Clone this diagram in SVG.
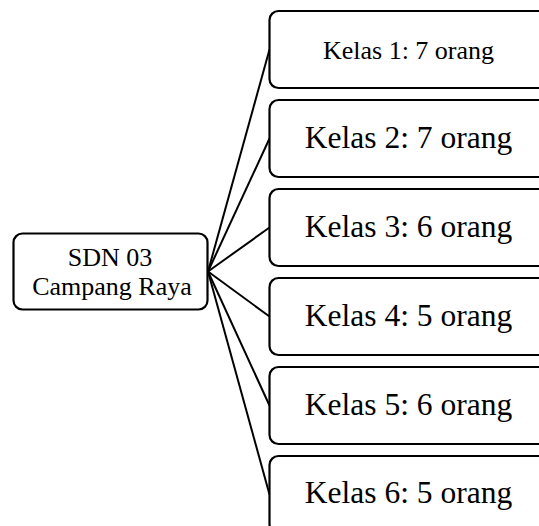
<svg xmlns="http://www.w3.org/2000/svg" width="539" height="526" viewBox="0 0 539 526">
  <style>
    .box { fill: #ffffff; stroke: #000000; stroke-width: 2.2; }
    .link { stroke: #000000; stroke-width: 2; fill: none; }
    .lbl { font-family: "Liberation Serif", "Times New Roman", serif; fill: #000000; text-anchor: middle; }
    .big { font-size: 31.5px; }
    .small { font-size: 26px; }
  </style>
  <rect width="539" height="526" fill="#ffffff"/>

  <!-- connectors from the school to each class -->
  <g id="connectors">
    <line class="link" x1="208" y1="271.5" x2="269.5" y2="49.5"/>
    <line class="link" x1="208" y1="271.5" x2="269.5" y2="138.5"/>
    <line class="link" x1="208" y1="271.5" x2="269.5" y2="227.5"/>
    <line class="link" x1="208" y1="271.5" x2="269.5" y2="316.5"/>
    <line class="link" x1="208" y1="271.5" x2="269.5" y2="405.5"/>
    <line class="link" x1="208" y1="271.5" x2="269.5" y2="494.5"/>
  </g>

  <g id="school">
    <rect class="box" x="13.5" y="233.5" width="194" height="76" rx="9"/>
    <text class="lbl small" x="110" y="266">SDN 03</text>
    <text class="lbl small" x="112" y="295">Campang Raya</text>
  </g>

  <g id="kelas1">
    <rect class="box" x="269.5" y="11" width="280" height="77" rx="9"/>
    <text class="lbl small" x="408.5" y="59">Kelas 1: 7 orang</text>
  </g>
  <g id="kelas2">
    <rect class="box" x="269.5" y="100" width="280" height="77" rx="9"/>
    <text class="lbl big" x="408.5" y="147.5">Kelas 2: 7 orang</text>
  </g>
  <g id="kelas3">
    <rect class="box" x="269.5" y="189" width="280" height="77" rx="9"/>
    <text class="lbl big" x="408.5" y="236.5">Kelas 3: 6 orang</text>
  </g>
  <g id="kelas4">
    <rect class="box" x="269.5" y="278" width="280" height="77" rx="9"/>
    <text class="lbl big" x="408.5" y="326">Kelas 4: 5 orang</text>
  </g>
  <g id="kelas5">
    <rect class="box" x="269.5" y="367" width="280" height="77" rx="9"/>
    <text class="lbl big" x="408.5" y="414.5">Kelas 5: 6 orang</text>
  </g>
  <g id="kelas6">
    <rect class="box" x="269.5" y="456" width="280" height="77" rx="9"/>
    <text class="lbl big" x="408.5" y="503">Kelas 6: 5 orang</text>
  </g>
</svg>
